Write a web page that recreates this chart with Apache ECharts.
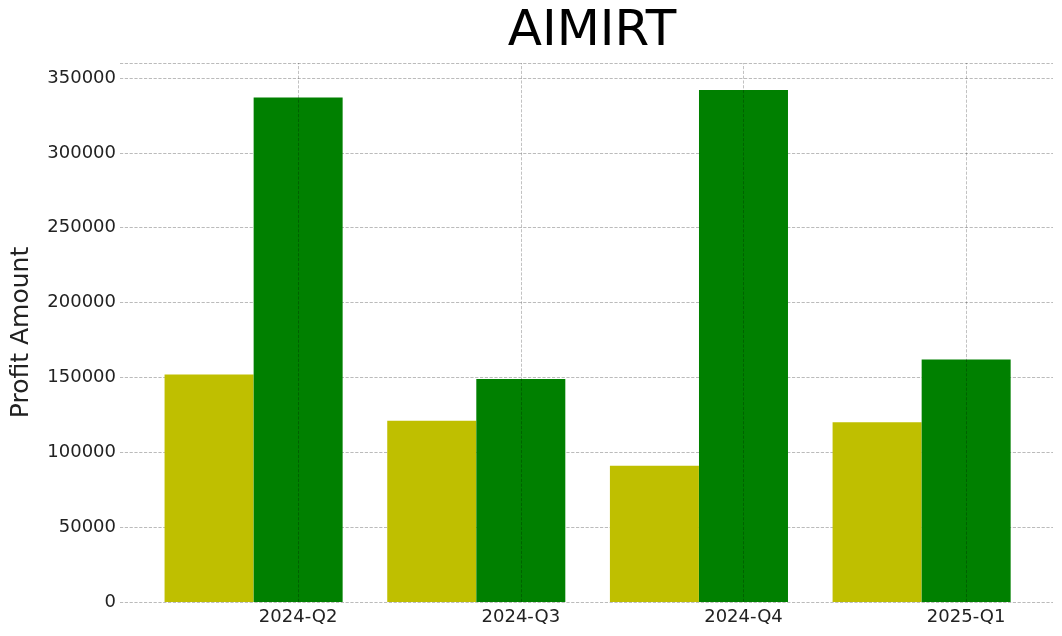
<!DOCTYPE html>
<html><head><meta charset="utf-8">
<script src="https://cdn.jsdelivr.net/npm/echarts@6/dist/echarts.min.js"></script>
<style>html,body{margin:0;padding:0;background:#fff}#c{width:1062px;height:636px}</style>
</head><body><div id="c"></div>
<script>
var categories = ['2024-Q2', '2024-Q3', '2024-Q4', '2025-Q1'];
var yellowValues = [152000, 121000, 91000, 120000];
var greenValues = [337000, 149000, 342000, 162000];
var yTicks = [0, 50000, 100000, 150000, 200000, 250000, 300000, 350000];

var chart = echarts.init(document.getElementById('c'));
var font = 'DejaVu Sans';
chart.setOption({
    animation: false,
    title: { text: 'AIMIRT', left: 587, textAlign: 'center', top: 2,
        textStyle: { fontFamily: font, fontSize: 50, fontWeight: 'normal', color: '#000' } },
    grid: { left: 120, right: 9, top: 63, bottom: 34 },
    xAxis: {
        type: 'value', min: -0.8, max: 3.39,
        axisLine: { show: false }, axisTick: { show: false }, splitLine: { show: false },
        axisLabel: { customValues: [0, 1, 2, 3], margin: 6,
            formatter: function (v) { return categories[Math.round(v)]; },
            fontFamily: font, fontSize: 18, color: '#222' }
    },
    yAxis: {
        type: 'value', min: 0, max: 360000, interval: 50000,
        name: 'Profit Amount', nameLocation: 'middle', nameGap: 86,
        nameTextStyle: { fontFamily: font, fontSize: 25, color: '#222' },
        axisLine: { show: false }, axisTick: { show: false },
        axisLabel: { fontFamily: font, fontSize: 18, color: '#222', margin: 4,
            formatter: function (v) { return yTicks.indexOf(v) >= 0 ? String(v) : ''; } },
        splitLine: { lineStyle: { type: 'dashed', color: '#aaa', width: 0.8 } }
    },
    series: [
        { type: 'bar', barWidth: 89, barGap: '-100%', itemStyle: { color: '#bfbf00' },
          data: yellowValues.map(function (v, i) { return [i - 0.4, v]; }) },
        { type: 'bar', barWidth: 89, barGap: '-100%', itemStyle: { color: '#008000' },
          data: greenValues.map(function (v, i) { return [i, v]; }),
          markLine: { silent: true, symbol: 'none', label: { show: false }, z: 10,
              lineStyle: { type: 'dashed', color: 'rgba(0,0,0,0.3)', width: 0.8 },
              data: categories.map(function (c, i) { return { xAxis: i }; }) } }
    ]
});
</script></body></html>
